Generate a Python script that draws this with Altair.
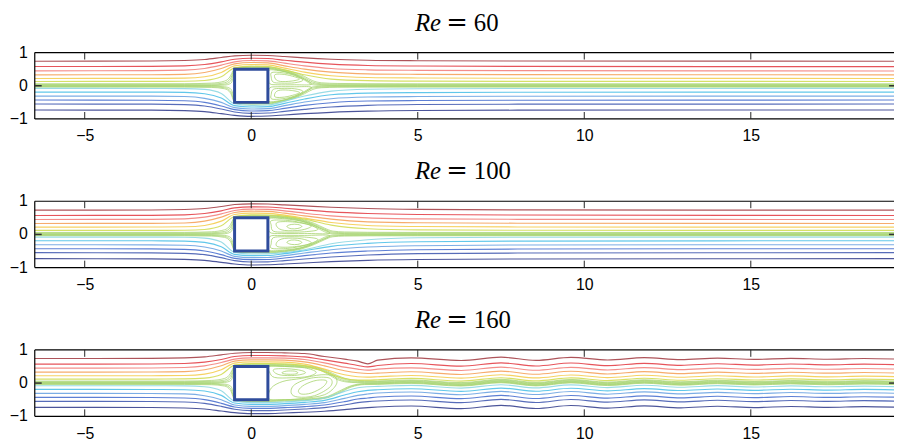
import altair as alt
import pandas as pd

X_MIN, X_MAX = -6.5, 19.3
W, H = 867, 67
X_TICKS = [-5, 0, 5, 10, 15]
Y_TICKS = [-1, 0, 1]
Y_TICK_LABELS = ["\u22121", "0", "1"]
RE_LABELS = ["60", "100", "160"]

COL = {
    "dr": "#a0363d", "r": "#e2363e", "sa": "#f27a76", "o": "#f59d52",
    "yl": "#f4ca48", "yg": "#cfdb4c", "g": "#9fd066", "g2": "#a6d36c",
    "lc": "#88d6e1", "c": "#45bde6", "lb": "#649fe0", "b": "#4169cc",
    "b2": "#3a52ad", "nv": "#2d3788",
}
OUT_COLORS = ["dr", "r", "sa", "o", "yl", "yg", "lc", "c", "lb", "b", "b2", "nv"]

# ---------------- Re = 60 ----------------
P1_OUT_X = [-6.5, -3.0, -2.0, -1.4, -0.9, -0.5, 0.0, 0.5, 1.0, 1.6, 2.4, 3.5, 5.0, 8.0, 19.3]
P1_OUT_Y = [
    [0.74, 0.745, 0.76, 0.79, 0.85, 0.90, 0.92, 0.91, 0.88, 0.84, 0.80, 0.77, 0.755, 0.745, 0.74],
    [0.58, 0.585, 0.60, 0.64, 0.72, 0.80, 0.83, 0.82, 0.77, 0.71, 0.65, 0.61, 0.595, 0.585, 0.575],
    [0.45, 0.455, 0.47, 0.52, 0.62, 0.72, 0.76, 0.75, 0.68, 0.60, 0.52, 0.48, 0.465, 0.455, 0.445],
    [0.33, 0.333, 0.345, 0.40, 0.52, 0.66, 0.70, 0.69, 0.60, 0.50, 0.41, 0.36, 0.345, 0.335, 0.33],
    [0.22, 0.222, 0.23, 0.27, 0.40, 0.60, 0.64, 0.63, 0.53, 0.41, 0.30, 0.25, 0.235, 0.225, 0.22],
    [0.13, 0.131, 0.135, 0.16, 0.27, 0.54, 0.59, 0.58, 0.48, 0.33, 0.20, 0.155, 0.14, 0.133, 0.13],
    [-0.08, -0.081, -0.085, -0.11, -0.23, -0.54, -0.59, -0.58, -0.47, -0.31, -0.16, -0.105, -0.09, -0.083, -0.08],
    [-0.19, -0.192, -0.20, -0.24, -0.37, -0.60, -0.64, -0.63, -0.53, -0.40, -0.27, -0.22, -0.205, -0.195, -0.19],
    [-0.31, -0.313, -0.325, -0.38, -0.50, -0.66, -0.70, -0.69, -0.60, -0.49, -0.39, -0.34, -0.325, -0.315, -0.31],
    [-0.43, -0.435, -0.45, -0.50, -0.61, -0.72, -0.76, -0.75, -0.68, -0.59, -0.51, -0.46, -0.445, -0.435, -0.43],
    [-0.55, -0.555, -0.57, -0.61, -0.70, -0.79, -0.83, -0.82, -0.77, -0.71, -0.64, -0.59, -0.565, -0.555, -0.55],
    [-0.73, -0.735, -0.75, -0.78, -0.84, -0.89, -0.92, -0.91, -0.88, -0.84, -0.80, -0.765, -0.745, -0.735, -0.73],
]
P1_BUN_X = [-6.5, -2.0, -1.2, -0.8, -0.62, -0.55, -0.5, 0.0, 0.5, 0.9, 1.3, 1.6, 1.85, 2.1, 2.6, 3.5, 5.0, 19.3]
P1_BUN_Y = [
    [0.06, 0.062, 0.08, 0.14, 0.30, 0.45, 0.54, 0.575, 0.57, 0.50, 0.40, 0.28, 0.15, 0.09, 0.07, 0.062, 0.06, 0.06],
    [0.04, 0.041, 0.05, 0.09, 0.22, 0.40, 0.53, 0.555, 0.55, 0.48, 0.37, 0.24, 0.11, 0.06, 0.045, 0.041, 0.04, 0.04],
    [0.02, 0.02, 0.025, 0.05, 0.14, 0.33, 0.52, 0.535, 0.53, 0.46, 0.34, 0.20, 0.07, 0.035, 0.023, 0.02, 0.02, 0.02],
    [0.005, 0.005, 0.007, 0.02, 0.07, 0.22, 0.51, 0.515, 0.515, 0.45, 0.32, 0.17, 0.03, 0.012, 0.006, 0.005, 0.005, 0.005],
    [-0.01, -0.01, -0.012, -0.03, -0.09, -0.25, -0.51, -0.515, -0.515, -0.45, -0.32, -0.17, -0.035, -0.016, -0.011, -0.01, -0.01, -0.01],
    [-0.025, -0.025, -0.03, -0.06, -0.16, -0.35, -0.52, -0.535, -0.53, -0.46, -0.34, -0.20, -0.07, -0.04, -0.028, -0.025, -0.025, -0.025],
    [-0.04, -0.041, -0.05, -0.09, -0.22, -0.40, -0.53, -0.555, -0.55, -0.48, -0.37, -0.24, -0.11, -0.06, -0.045, -0.041, -0.04, -0.04],
]
P1_LOOPS = [
    [(0.53, 0.47), (0.85, 0.45), (1.25, 0.37), (1.6, 0.2), (1.8, 0.04), (1.3, 0.03), (0.8, 0.03), (0.56, 0.06), (0.52, 0.25)],
    [(0.62, 0.40), (0.95, 0.39), (1.3, 0.31), (1.55, 0.17), (1.3, 0.09), (0.9, 0.08), (0.66, 0.11), (0.6, 0.26)],
    [(0.72, 0.34), (1.0, 0.34), (1.3, 0.27), (1.45, 0.2), (1.2, 0.14), (0.88, 0.13), (0.73, 0.2)],
    [(0.53, -0.47), (0.85, -0.45), (1.25, -0.37), (1.6, -0.2), (1.8, -0.04), (1.3, -0.03), (0.8, -0.03), (0.56, -0.06), (0.52, -0.25)],
    [(0.62, -0.40), (0.95, -0.39), (1.3, -0.31), (1.55, -0.17), (1.3, -0.09), (0.9, -0.08), (0.66, -0.11), (0.6, -0.26)],
    [(0.72, -0.34), (1.0, -0.34), (1.3, -0.27), (1.45, -0.2), (1.2, -0.14), (0.88, -0.13), (0.73, -0.2)],
]

# ---------------- Re = 100 ----------------
P2_OUT_X = [-6.5, -3.0, -2.0, -1.4, -0.9, -0.5, 0.0, 0.5, 1.0, 1.6, 2.4, 3.5, 5.0, 8.0, 19.3]
P2_OUT_Y = [
    [0.73, 0.735, 0.75, 0.78, 0.84, 0.90, 0.92, 0.915, 0.89, 0.86, 0.82, 0.78, 0.755, 0.74, 0.73],
    [0.57, 0.575, 0.59, 0.63, 0.71, 0.80, 0.83, 0.825, 0.79, 0.74, 0.68, 0.63, 0.60, 0.585, 0.57],
    [0.45, 0.455, 0.47, 0.52, 0.62, 0.72, 0.76, 0.755, 0.71, 0.64, 0.56, 0.50, 0.47, 0.455, 0.45],
    [0.33, 0.333, 0.345, 0.40, 0.52, 0.66, 0.70, 0.695, 0.64, 0.56, 0.46, 0.38, 0.35, 0.337, 0.33],
    [0.22, 0.222, 0.23, 0.27, 0.40, 0.60, 0.64, 0.635, 0.58, 0.49, 0.36, 0.27, 0.24, 0.225, 0.22],
    [0.12, 0.121, 0.125, 0.15, 0.26, 0.54, 0.59, 0.585, 0.55, 0.46, 0.28, 0.17, 0.135, 0.125, 0.12],
    [-0.08, -0.081, -0.085, -0.11, -0.23, -0.54, -0.59, -0.585, -0.55, -0.46, -0.28, -0.16, -0.10, -0.085, -0.08],
    [-0.19, -0.192, -0.20, -0.24, -0.37, -0.60, -0.64, -0.635, -0.58, -0.49, -0.36, -0.27, -0.22, -0.20, -0.19],
    [-0.31, -0.313, -0.325, -0.38, -0.50, -0.66, -0.70, -0.695, -0.64, -0.56, -0.46, -0.38, -0.34, -0.318, -0.31],
    [-0.43, -0.435, -0.45, -0.50, -0.61, -0.72, -0.76, -0.755, -0.71, -0.64, -0.56, -0.50, -0.46, -0.44, -0.43],
    [-0.55, -0.555, -0.57, -0.61, -0.70, -0.79, -0.83, -0.825, -0.79, -0.74, -0.68, -0.62, -0.58, -0.56, -0.55],
    [-0.73, -0.735, -0.75, -0.78, -0.84, -0.89, -0.92, -0.915, -0.89, -0.86, -0.82, -0.78, -0.755, -0.74, -0.73],
]
P2_BUN_X = [-6.5, -2.0, -1.2, -0.8, -0.62, -0.55, -0.5, 0.0, 0.5, 1.0, 1.5, 1.9, 2.2, 2.45, 2.8, 3.5, 5.0, 19.3]
P2_BUN_Y = [
    [0.06, 0.062, 0.08, 0.14, 0.30, 0.45, 0.54, 0.575, 0.575, 0.54, 0.46, 0.33, 0.19, 0.10, 0.075, 0.065, 0.06, 0.06],
    [0.04, 0.041, 0.05, 0.09, 0.22, 0.40, 0.53, 0.555, 0.555, 0.52, 0.44, 0.30, 0.16, 0.07, 0.05, 0.043, 0.04, 0.04],
    [0.02, 0.02, 0.025, 0.05, 0.14, 0.33, 0.52, 0.535, 0.535, 0.505, 0.42, 0.27, 0.12, 0.04, 0.026, 0.021, 0.02, 0.02],
    [0.005, 0.005, 0.007, 0.02, 0.07, 0.22, 0.51, 0.515, 0.515, 0.49, 0.40, 0.24, 0.08, 0.015, 0.007, 0.005, 0.005, 0.005],
    [-0.01, -0.01, -0.012, -0.03, -0.09, -0.25, -0.51, -0.515, -0.515, -0.49, -0.40, -0.24, -0.085, -0.02, -0.012, -0.01, -0.01, -0.01],
    [-0.025, -0.025, -0.03, -0.06, -0.16, -0.35, -0.52, -0.535, -0.535, -0.505, -0.42, -0.27, -0.12, -0.045, -0.03, -0.026, -0.025, -0.025],
    [-0.04, -0.041, -0.05, -0.09, -0.22, -0.40, -0.53, -0.555, -0.555, -0.52, -0.44, -0.30, -0.16, -0.07, -0.05, -0.043, -0.04, -0.04],
]
P2_LOOPS = [
    [(0.53, 0.48), (1.0, 0.47), (1.6, 0.38), (2.05, 0.2), (2.35, 0.03), (1.6, 0.03), (0.9, 0.03), (0.56, 0.06), (0.52, 0.3)],
    [(0.62, 0.42), (1.1, 0.42), (1.65, 0.32), (2.0, 0.15), (1.6, 0.08), (1.0, 0.07), (0.66, 0.1), (0.6, 0.28)],
    [(0.8, 0.37), (1.3, 0.37), (1.8, 0.26), (1.5, 0.13), (1.0, 0.12), (0.78, 0.22)],
    [(1.07, 0.24), (1.2, 0.3), (1.4, 0.3), (1.52, 0.24), (1.4, 0.18), (1.2, 0.17)],
    [(0.53, -0.48), (1.0, -0.47), (1.6, -0.38), (2.05, -0.2), (2.35, -0.03), (1.6, -0.03), (0.9, -0.03), (0.56, -0.06), (0.52, -0.3)],
    [(0.62, -0.42), (1.1, -0.42), (1.65, -0.32), (2.0, -0.15), (1.6, -0.08), (1.0, -0.07), (0.66, -0.1), (0.6, -0.28)],
    [(0.8, -0.37), (1.3, -0.37), (1.8, -0.26), (1.5, -0.13), (1.0, -0.12), (0.78, -0.22)],
    [(1.07, -0.24), (1.2, -0.3), (1.4, -0.3), (1.52, -0.24), (1.4, -0.18), (1.2, -0.17)],
]

# ---------------- Re = 160 ----------------
P3_OUT_X = [-6.5, -3.0, -2.0, -1.4, -0.9, -0.5, 0.0, 0.5, 1.0, 1.6, 2.2, 2.8, 3.2, 3.5, 3.8]
P3_OUT_Y = [
    [0.74, 0.745, 0.76, 0.79, 0.85, 0.90, 0.92, 0.92, 0.91, 0.89, 0.80, 0.72, 0.66, 0.58, 0.69],
    [0.57, 0.575, 0.59, 0.63, 0.71, 0.80, 0.83, 0.83, 0.82, 0.79, 0.70, 0.60, 0.53, 0.49, 0.53],
    [0.45, 0.455, 0.47, 0.52, 0.62, 0.72, 0.76, 0.76, 0.75, 0.71, 0.61, 0.48, 0.42, 0.39, 0.42],
    [0.33, 0.333, 0.345, 0.40, 0.52, 0.66, 0.70, 0.70, 0.69, 0.64, 0.52, 0.37, 0.31, 0.29, 0.30],
    [0.22, 0.222, 0.23, 0.27, 0.40, 0.60, 0.64, 0.64, 0.63, 0.57, 0.42, 0.25, 0.19, 0.18, 0.19],
    [0.12, 0.121, 0.125, 0.15, 0.26, 0.54, 0.59, 0.59, 0.58, 0.52, 0.34, 0.14, 0.09, 0.09, 0.10],
    [-0.08, -0.081, -0.085, -0.11, -0.23, -0.54, -0.59, -0.59, -0.57, -0.53, -0.45, -0.25, -0.14, -0.11, -0.10],
    [-0.19, -0.192, -0.20, -0.24, -0.37, -0.60, -0.64, -0.64, -0.62, -0.58, -0.52, -0.36, -0.26, -0.22, -0.20],
    [-0.31, -0.313, -0.325, -0.38, -0.50, -0.66, -0.70, -0.70, -0.68, -0.64, -0.59, -0.46, -0.37, -0.33, -0.30],
    [-0.43, -0.435, -0.45, -0.50, -0.61, -0.72, -0.76, -0.76, -0.74, -0.71, -0.66, -0.56, -0.48, -0.45, -0.42],
    [-0.55, -0.555, -0.57, -0.61, -0.70, -0.79, -0.83, -0.83, -0.81, -0.78, -0.74, -0.66, -0.59, -0.56, -0.54],
    [-0.73, -0.735, -0.75, -0.78, -0.84, -0.89, -0.92, -0.92, -0.90, -0.88, -0.85, -0.80, -0.76, -0.74, -0.72],
]
P3_OUT_BASE = [0.73, 0.56, 0.43, 0.31, 0.20, 0.11, -0.10, -0.20, -0.30, -0.42, -0.54, -0.72]
P3_BUN_X = [-6.5, -2.0, -1.2, -0.8, -0.62, -0.55, -0.5, 0.0, 0.5, 1.0, 1.6, 2.0, 2.3, 2.6, 3.0, 3.4, 3.8]
P3_BUN_Y = [
    [0.06, 0.062, 0.08, 0.14, 0.30, 0.45, 0.54, 0.575, 0.575, 0.56, 0.53, 0.47, 0.36, 0.22, 0.10, 0.07, 0.065],
    [0.04, 0.041, 0.05, 0.09, 0.22, 0.40, 0.53, 0.555, 0.555, 0.54, 0.51, 0.45, 0.33, 0.18, 0.07, 0.045, 0.045],
    [0.02, 0.02, 0.025, 0.05, 0.14, 0.33, 0.52, 0.535, 0.535, 0.52, 0.49, 0.43, 0.30, 0.14, 0.04, 0.025, 0.025],
    [0.005, 0.005, 0.007, 0.02, 0.07, 0.22, 0.51, 0.515, 0.515, 0.50, 0.47, 0.41, 0.27, 0.10, 0.02, 0.008, 0.008],
    [-0.01, -0.01, -0.012, -0.03, -0.09, -0.25, -0.51, -0.515, -0.515, -0.50, -0.48, -0.45, -0.40, -0.26, -0.08, -0.015, -0.01],
    [-0.025, -0.025, -0.03, -0.06, -0.16, -0.35, -0.52, -0.535, -0.535, -0.52, -0.50, -0.47, -0.42, -0.29, -0.10, -0.03, -0.025],
    [-0.04, -0.041, -0.05, -0.09, -0.22, -0.40, -0.53, -0.555, -0.555, -0.54, -0.52, -0.49, -0.44, -0.32, -0.12, -0.045, -0.04],
]
P3_BUN_BASE = [0.065, 0.045, 0.025, 0.008, -0.01, -0.025, -0.04]
# transverse wake oscillation read downstream of x = 3.8
P3_WAVE_X = [4.8, 6.3, 7.5, 8.55, 9.6, 10.7, 11.8, 12.9, 14.0, 15.1, 16.2, 17.3, 18.4, 19.3]
P3_WAVE_D = [0.03, -0.05, 0.05, -0.045, 0.045, -0.035, 0.035, -0.025, 0.022, -0.018, 0.015, -0.012, 0.01, -0.005]
P3_LOOPS = [
    [(0.53, 0.5), (1.0, 0.5), (1.6, 0.46), (1.95, 0.33), (1.7, 0.2), (1.2, 0.16), (0.7, 0.17), (0.55, 0.33)],
    [(0.7, 0.42), (1.1, 0.43), (1.5, 0.38), (1.62, 0.3), (1.3, 0.23), (0.9, 0.24), (0.7, 0.32)],
    [(0.92, 0.31), (1.05, 0.36), (1.3, 0.36), (1.4, 0.31), (1.3, 0.27), (1.05, 0.27)],
    [(0.53, -0.47), (0.6, -0.15), (0.95, 0.05), (1.5, 0.14), (2.1, 0.25), (2.5, 0.2), (2.55, -0.05), (2.2, -0.35), (1.5, -0.47), (0.9, -0.5)],
    [(1.2, -0.3), (1.3, -0.05), (1.8, 0.15), (2.35, 0.15), (2.38, -0.1), (1.9, -0.38), (1.4, -0.42)],
    [(1.42, -0.22), (1.6, -0.05), (1.95, 0.08), (2.26, 0.07), (2.15, -0.12), (1.8, -0.3), (1.5, -0.33)],
]

SQUARE = pd.DataFrame({"x0": [-0.5], "x1": [0.5], "y0": [-0.5], "y1": [0.5]})


def build_open(out_x, out_y, bun_x, bun_y, out_base=None, bun_base=None):
    outer, bundle = [], []
    for k, ys in enumerate(out_y):
        xs = list(out_x)
        yy = list(ys)
        if out_base is not None:
            xs += P3_WAVE_X
            yy += [out_base[k] + d for d in P3_WAVE_D]
        for i, (x, y) in enumerate(zip(xs, yy)):
            outer.append({"id": f"o{k}", "c": COL[OUT_COLORS[k]], "x": x, "y": y, "o": i})
    for k, ys in enumerate(bun_y):
        xs = list(bun_x)
        yy = list(ys)
        if bun_base is not None:
            xs += P3_WAVE_X
            yy += [bun_base[k] + d for d in P3_WAVE_D]
        for i, (x, y) in enumerate(zip(xs, yy)):
            bundle.append({"id": f"b{k}", "c": COL["g"], "x": x, "y": y, "o": i})
    return pd.DataFrame(outer), pd.DataFrame(bundle)


def build_loops(loops):
    rows = []
    for k, pts in enumerate(loops):
        for i, (x, y) in enumerate(pts):
            rows.append({"id": f"l{k}", "c": COL["g2"], "x": x, "y": y, "o": i})
    return pd.DataFrame(rows)


XS = alt.Scale(domain=[X_MIN, X_MAX], nice=False, zero=False)
YS = alt.Scale(domain=[-1, 1], nice=False, zero=False)
AX = alt.Axis(values=X_TICKS, title=None, format="d")
AY = alt.Axis(values=Y_TICKS, title=None, labels=False)
ONE = pd.DataFrame({"a": [0]})
YLAB = pd.DataFrame({"v": Y_TICKS, "lab": Y_TICK_LABELS})
TY = -22


def panel(dfs, df_loops, re_label):
    df_outer, df_bundle = dfs
    enc = dict(
        x=alt.X("x:Q", scale=XS, axis=AX),
        y=alt.Y("y:Q", scale=YS, axis=AY),
        color=alt.Color("c:N", scale=None),
        detail="id:N",
        order="o:Q",
    )
    outer = alt.Chart(df_outer).mark_line(interpolate="monotone", strokeWidth=1.15, opacity=0.85, clip=True).encode(**enc)
    bundle = alt.Chart(df_bundle).mark_line(interpolate="monotone", strokeWidth=1.0, opacity=0.7, clip=True).encode(**enc)
    loops = alt.Chart(df_loops).mark_line(interpolate="cardinal-closed", strokeWidth=1.0, opacity=0.8).encode(**enc)
    square = alt.Chart(SQUARE).mark_rect(fill="white", stroke="#2f4c9c", strokeWidth=3).encode(
        x=alt.X("x0:Q", scale=XS, axis=AX), x2="x1:Q",
        y=alt.Y("y0:Q", scale=YS, axis=AY), y2="y1:Q",
    )
    frame_top = alt.Chart(ONE).mark_rule(color="black", strokeWidth=1.2).encode(
        x=alt.value(0), x2=alt.value(W), y=alt.value(0))
    frame_bot = alt.Chart(ONE).mark_rule(color="black", strokeWidth=1.2).encode(
        x=alt.value(0), x2=alt.value(W), y=alt.value(H))
    frame_left = alt.Chart(ONE).mark_rule(color="black", strokeWidth=1.2).encode(
        x=alt.value(0), y=alt.value(0), y2=alt.value(H))
    tdf = pd.DataFrame({"t": X_TICKS})
    ticks_top = alt.Chart(tdf).mark_rule(color="#222", strokeWidth=1).encode(
        x=alt.X("t:Q", scale=XS, axis=AX), y=alt.value(0), y2=alt.value(7))
    ticks_bot = alt.Chart(tdf).mark_rule(color="#222", strokeWidth=1).encode(
        x=alt.X("t:Q", scale=XS, axis=AX), y=alt.value(H - 7), y2=alt.value(H))
    ydf = pd.DataFrame({"v": [0]})
    yt_left = alt.Chart(ydf).mark_rule(color="#333", strokeWidth=1.5).encode(
        y=alt.Y("v:Q", scale=YS, axis=AY), x=alt.value(0), x2=alt.value(7))
    yt_right = alt.Chart(ydf).mark_rule(color="#333", strokeWidth=1.5).encode(
        y=alt.Y("v:Q", scale=YS, axis=AY), x=alt.value(W - 5), x2=alt.value(W))
    ylabels = alt.Chart(YLAB).mark_text(font="Liberation Sans", fontSize=16, align="right",
                                        baseline="middle", color="black").encode(
        y=alt.Y("v:Q", scale=YS, axis=AY), x=alt.value(-7), text="lab:N")
    t_re = alt.Chart(ONE).mark_text(text="Re", font="Liberation Serif", fontStyle="italic", fontSize=25,
                                    align="right", baseline="alphabetic", color="black").encode(
        x=alt.value(410), y=alt.value(TY))
    t_eq = alt.Chart(ONE).mark_text(text="=", font="DejaVu Serif", fontSize=26,
                                    align="center", baseline="alphabetic", color="black").encode(
        x=alt.value(426), y=alt.value(TY))
    t_num = alt.Chart(ONE).mark_text(text=re_label, font="Liberation Serif", fontSize=25,
                                     align="left", baseline="alphabetic", color="black").encode(
        x=alt.value(443), y=alt.value(TY))
    return alt.layer(bundle, loops, outer, square, frame_top, frame_bot, frame_left,
                     ticks_top, ticks_bot, yt_left, yt_right, ylabels,
                     t_re, t_eq, t_num).properties(width=W, height=H)


p1 = panel(build_open(P1_OUT_X, P1_OUT_Y, P1_BUN_X, P1_BUN_Y), build_loops(P1_LOOPS), RE_LABELS[0])
p2 = panel(build_open(P2_OUT_X, P2_OUT_Y, P2_BUN_X, P2_BUN_Y), build_loops(P2_LOOPS), RE_LABELS[1])
p3 = panel(build_open(P3_OUT_X, P3_OUT_Y, P3_BUN_X, P3_BUN_Y, P3_OUT_BASE, P3_BUN_BASE),
           build_loops(P3_LOOPS), RE_LABELS[2])

chart = alt.vconcat(p1, p2, p3, spacing=14).properties(
    padding={"top": 0, "left": 0, "right": 0, "bottom": 0}
).configure_view(stroke=None).configure_axisX(
    domain=False, ticks=False, grid=False, labelFont="Liberation Sans", labelFontSize=16,
    labelPadding=9, labelColor="black", minExtent=26, maxExtent=26,
).configure_axisY(
    domain=False, ticks=False, grid=False, labels=False, minExtent=27, maxExtent=27,
)

chart.save("out.html", embed_options={"renderer": "svg", "actions": False})
